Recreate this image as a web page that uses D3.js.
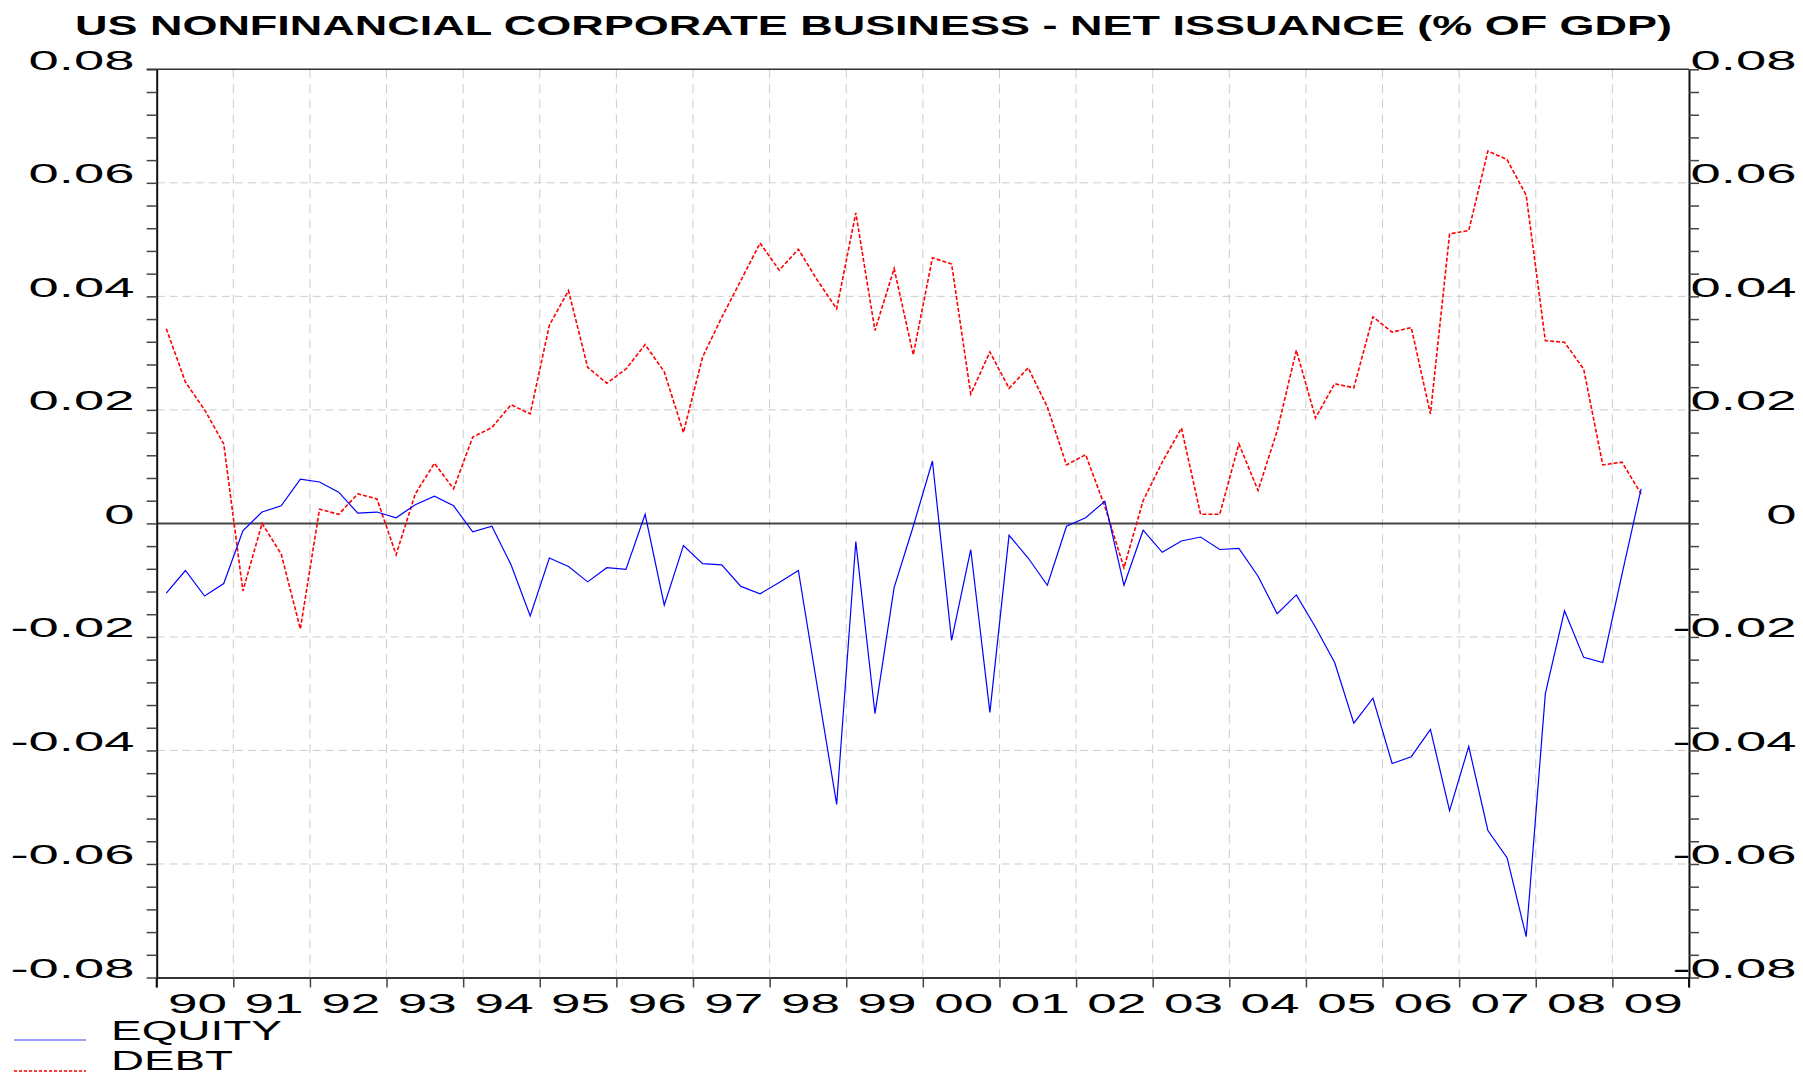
<!DOCTYPE html>
<html><head><meta charset="utf-8">
<script src="https://cdn.jsdelivr.net/npm/d3@7/dist/d3.min.js"></script>
<style>body{margin:0;background:#fff;overflow:hidden}</style>
</head><body>
<svg id="c" width="1803" height="1075" xmlns="http://www.w3.org/2000/svg"></svg>
<script>
// ---------- data ----------
const chartTitle = "US NONFINANCIAL CORPORATE BUSINESS - NET ISSUANCE (% OF GDP)";
const firstYear = 1990;
const lastYear = 2010;
const yearLabels = ["90","91","92","93","94","95","96","97","98","99","00","01","02","03","04","05","06","07","08","09"];
const yTickValues = [0.08, 0.06, 0.04, 0.02, 0, -0.02, -0.04, -0.06, -0.08];
const yTickLabels = ["0.08","0.06","0.04","0.02","0","-0.02","-0.04","-0.06","-0.08"];
const seriesNames = ["EQUITY", "DEBT"];
// quarterly, 1990Q1 .. 2009Q2
const equity = [
  -0.0123, -0.0083, -0.0128, -0.0106, -0.0013, 0.0020, 0.0031, 0.0078, 0.0073, 0.0055,
   0.0018,  0.0020,  0.0010,  0.0033,  0.0048, 0.0031, -0.0015, -0.0005, -0.0073, -0.0163,
  -0.0061, -0.0076, -0.0103, -0.0078, -0.0081, 0.0016, -0.0144, -0.0039, -0.0071, -0.0073,
  -0.0111, -0.0124, -0.0104, -0.0083, -0.0290, -0.0495, -0.0032, -0.0335, -0.0113, -0.0005,
   0.0110, -0.0206, -0.0046, -0.0333, -0.0021, -0.0061, -0.0109, -0.0005, 0.0010, 0.0039,
  -0.0109, -0.0012, -0.0051, -0.0031, -0.0024, -0.0046, -0.0044, -0.0093, -0.0159, -0.0126,
  -0.0183, -0.0245, -0.0352, -0.0308, -0.0423, -0.0411, -0.0363, -0.0506, -0.0393, -0.0541,
  -0.0589, -0.0728, -0.0300, -0.0154, -0.0236, -0.0245, -0.0090, 0.0061
];
const debt = [
   0.0343, 0.0249, 0.0200, 0.0140, -0.0119, 0.0000, -0.0054, -0.0186, 0.0025, 0.0016,
   0.0052, 0.0043, -0.0055, 0.0052, 0.0106, 0.0061, 0.0152, 0.0169, 0.0209, 0.0193,
   0.0349, 0.0410, 0.0275, 0.0247, 0.0272, 0.0315, 0.0267, 0.0160, 0.0293, 0.0363,
   0.0428, 0.0494, 0.0446, 0.0483, 0.0428, 0.0378, 0.0547, 0.0340, 0.0449, 0.0297,
   0.0468, 0.0457, 0.0228, 0.0302, 0.0238, 0.0274, 0.0205, 0.0103, 0.0121, 0.0030,
  -0.0078, 0.0040, 0.0108, 0.0168, 0.0016, 0.0016, 0.0140, 0.0058, 0.0163, 0.0305,
   0.0186, 0.0246, 0.0239, 0.0364, 0.0337, 0.0345, 0.0193, 0.0510, 0.0516, 0.0656,
   0.0641, 0.0578, 0.0322, 0.0319, 0.0272, 0.0103, 0.0108, 0.0052
];

// ---------- layout ----------
const L = 156.7, R = 1689, T = 69.3, B = 977.5;
const svg = d3.select("#c");
const FONT = "'Liberation Sans', Arial, sans-serif";

const x = d3.scaleLinear().domain([firstYear, lastYear]).range([L, R]);
const y = d3.scaleLinear().domain([-0.08, 0.08]).range([B, T]);
const tQ = i => firstYear + (i + 0.5) / 4;

// title
svg.append("text").attr("x", 75).attr("y", 34.5)
  .attr("font-family", FONT).attr("font-weight", "bold").attr("font-size", 28)
  .attr("textLength", 1597).attr("lengthAdjust", "spacingAndGlyphs")
  .text(chartTitle);

// grid
const years = d3.range(firstYear, lastYear + 1);
const grid = svg.append("g");
grid.selectAll("line.v").data(years.slice(1, -1)).enter().append("line")
  .attr("x1", d => x(d)).attr("x2", d => x(d)).attr("y1", T).attr("y2", B)
  .attr("stroke", "#cccccc").attr("stroke-width", 1).attr("stroke-dasharray", "9,6");
grid.selectAll("line.h").data(yTickValues.filter(v => v !== 0 && Math.abs(v) < 0.08)).enter().append("line")
  .attr("x1", L).attr("x2", R).attr("y1", d => y(d)).attr("y2", d => y(d))
  .attr("stroke", "#cccccc").attr("stroke-width", 1).attr("stroke-dasharray", "8,5");

// zero line
svg.append("line").attr("x1", L).attr("x2", R).attr("y1", y(0)).attr("y2", y(0))
  .attr("stroke", "#444").attr("stroke-width", 2);

// minor ticks
const minorTicks = d3.range(-20, 21).map(k => k * 0.004);

const leftAxis = d3.axisLeft(y).tickValues(minorTicks).tickSize(10).tickSizeOuter(0).tickFormat("");
const rightAxis = d3.axisRight(y).tickValues(minorTicks).tickSize(10).tickSizeOuter(0).tickFormat("");
const bottomAxis = d3.axisBottom(x).tickValues(years).tickSize(10).tickSizeOuter(0).tickFormat("");

const gl = svg.append("g").attr("transform", `translate(${L},0)`).call(leftAxis);
const gr = svg.append("g").attr("transform", `translate(${R},0)`).call(rightAxis);
const gb = svg.append("g").attr("transform", `translate(0,${B})`).call(bottomAxis);
[gl, gr, gb].forEach(g => {
  g.select(".domain").attr("stroke", "#111").attr("stroke-width", 2);
  g.selectAll(".tick line").attr("stroke", "#444").attr("stroke-width", 1.5);
});
gb.select(".domain").attr("stroke", "#333");
// top border
svg.append("line").attr("x1", L - 10).attr("x2", R).attr("y1", T).attr("y2", T)
  .attr("stroke", "#333").attr("stroke-width", 1.5);
// extend vertical axes below bottom
svg.append("line").attr("x1", L).attr("x2", L).attr("y1", B).attr("y2", B + 10).attr("stroke", "#111").attr("stroke-width", 2);
svg.append("line").attr("x1", R).attr("x2", R).attr("y1", B).attr("y2", B + 10).attr("stroke", "#111").attr("stroke-width", 2);

// y labels (horizontally stretched as in the original)
const yFont = 27;
const probe = svg.append("text").attr("font-family", FONT).attr("font-size", yFont).text("0.08");
const sy = 106 / probe.node().getComputedTextLength();
probe.remove();
function yLabels(xEnd) {
  svg.append("g").selectAll("text").data(yTickValues).enter().append("text")
    .attr("transform", d => `translate(${xEnd},${y(d) + 0.5}) scale(${sy},1)`)
    .attr("text-anchor", "end")
    .attr("font-family", FONT).attr("font-size", yFont).attr("fill", "#000")
    .text((d, i) => yTickLabels[i]);
}
yLabels(134.5);
yLabels(1796.5);

// x labels
svg.append("g").selectAll("text").data(yearLabels).enter().append("text")
  .attr("x", (d, i) => x(firstYear + i + 0.5) + 2.5)
  .attr("y", 1012.5)
  .attr("text-anchor", "middle")
  .attr("font-family", FONT).attr("font-size", 28.5)
  .attr("textLength", 59).attr("lengthAdjust", "spacingAndGlyphs")
  .text(d => d);

// lines
const lineGen = d3.line().x((d, i) => x(tQ(i))).y(d => y(d));
svg.append("path").datum(debt).attr("d", lineGen)
  .attr("fill", "none").attr("stroke", "#ff0000").attr("stroke-width", 1.6)
  .attr("stroke-dasharray", "4,2");
svg.append("path").datum(equity).attr("d", lineGen)
  .attr("fill", "none").attr("stroke", "#0000ff").attr("stroke-width", 1.2);

// legend
const legend = svg.append("g");
const legendY = [1040, 1069.5];
const legendStyles = [
  {stroke: "#7f7fff", dash: null, w: 1.6, len: 171},
  {stroke: "#ff0000", dash: "3,2", w: 1.4, len: 122}
];
seriesNames.forEach((name, i) => {
  legend.append("line").attr("x1", 14).attr("x2", 86)
    .attr("y1", legendY[i] + (i ? 1.5 : 0)).attr("y2", legendY[i] + (i ? 1.5 : 0))
    .attr("stroke", legendStyles[i].stroke).attr("stroke-width", legendStyles[i].w)
    .attr("stroke-dasharray", legendStyles[i].dash);
  legend.append("text").attr("x", 111).attr("y", legendY[i])
    .attr("font-family", FONT).attr("font-size", 27)
    .attr("textLength", legendStyles[i].len).attr("lengthAdjust", "spacingAndGlyphs")
    .text(name);
});
</script>
</body></html>
